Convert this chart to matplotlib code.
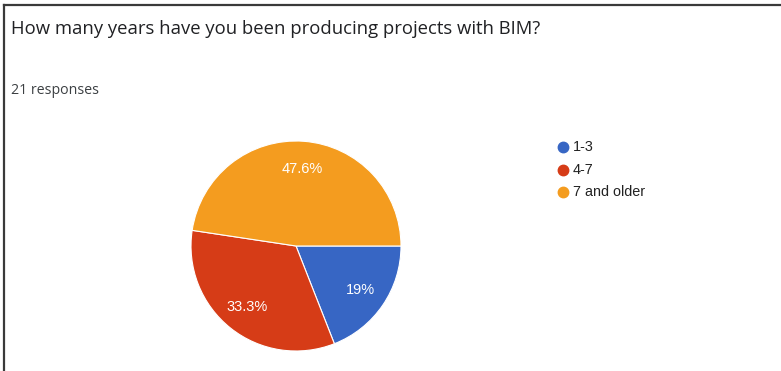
import matplotlib
matplotlib.use('Agg')
import matplotlib.pyplot as plt
from matplotlib.lines import Line2D

# Survey answers: years of BIM experience
question = 'How many years have you been producing projects with BIM?'
labels = ['1-3', '4-7', '7 and older']
counts = [4, 7, 10]
colors = ['#3766c4', '#d63c17', '#f49c1f']

plt.rcParams['font.family'] = ['Liberation Sans', 'DejaVu Sans']

W, H = 781, 371
fig = plt.figure(figsize=(W / 100, H / 100), dpi=100)
fig.patch.set_facecolor('white')


def px(x, y):
    # pixel position (from top-left) to figure fraction
    return x / W, 1 - y / H


def pct_label(p):
    s = '%.1f' % p
    if s.endswith('.0'):
        s = s[:-2]
    return s + '%'


# frame lines on top and left
fig.add_artist(Line2D([4 / W, 1], [1 - 5 / H] * 2, color='#3a3a3a', lw=1.6,
                      transform=fig.transFigure))
fig.add_artist(Line2D([4 / W] * 2, [0, 1 - 5 / H], color='#3a3a3a', lw=1.6,
                      transform=fig.transFigure))

fig.text(*px(11, 29), question, fontsize=13.35, color='#202124', va='center',
         family=['Open Sans', 'DejaVu Sans'])
fig.text(*px(11, 91), '%d responses' % sum(counts), fontsize=10.2,
         color='#3c4043', va='center', family=['Open Sans', 'DejaVu Sans'])

# pie centred at (296, 246) px with radius 105 px
cx, cy, r = 296, 246, 105
ax = fig.add_axes([(cx - r) / W, (H - cy - r) / H, 2 * r / W, 2 * r / H])
wedges, texts, autotexts = ax.pie(
    counts, colors=colors, startangle=0, counterclock=False,
    autopct=pct_label, pctdistance=0.74,
    wedgeprops=dict(edgecolor='white', linewidth=0.8),
    textprops=dict(color='white', fontsize=10.5))
ax.set_xlim(-1, 1)
ax.set_ylim(-1, 1)
ax.set_aspect('equal')
ax.axis('off')

# legend with round markers
for i, (lab, col) in enumerate(zip(labels, colors)):
    ly = 147 + i * 22.5
    fig.add_artist(Line2D([563 / W], [1 - ly / H], marker='o', markersize=7.5,
                          color=col, linestyle='none',
                          transform=fig.transFigure))
    fig.text(*px(573, ly), lab, fontsize=10.4, color='#222222', va='center')

fig.savefig('out.png', dpi=100)
